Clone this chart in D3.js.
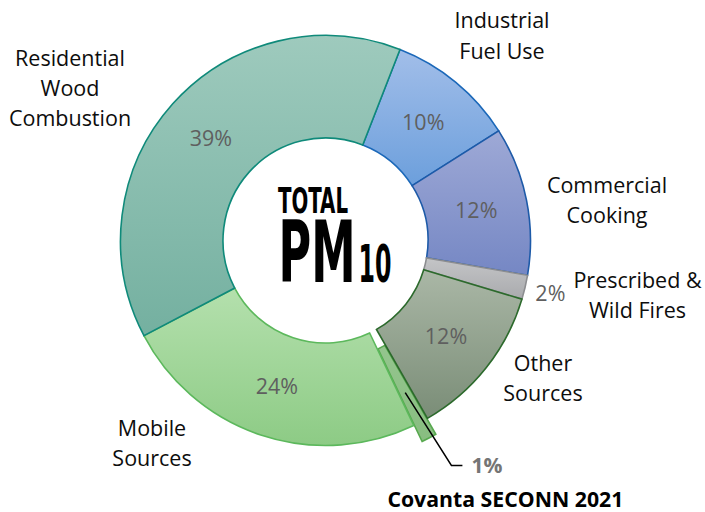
<!DOCTYPE html>
<html><head><meta charset="utf-8">
<script src="https://cdn.jsdelivr.net/npm/d3@7"></script>
<style>body{margin:0;background:#fff}svg{display:block}</style>
</head><body><svg id="c" width="705" height="512"></svg>
<script>
// ---- data ----
const categories = ["Industrial Fuel Use","Commercial Cooking","Prescribed & Wild Fires","Other Sources","Covanta SECONN 2021","Mobile Sources","Residential Wood Combustion"];
const values = [10.1, 11.7, 1.9, 12.1, 1.2, 24.4, 38.6];
const labelLines = [["Industrial","Fuel Use"],["Commercial","Cooking"],["Prescribed &","Wild Fires"],["Other","Sources"],[],["Mobile","Sources"],["Residential","Wood","Combustion"]];
const explodedFlags = [0,0,0,0,1,0,0];
const centerTitle = ["TOTAL","PM","10"];
const highlightTitle = "Covanta SECONN 2021";

// ---- styles / layout ----
const fillTop    = ["#a2bee9","#9ea9d6","#c4c5c7","#aab7a6","#94c58e","#b4e0ad","#9ecabd"];
const fillBottom = ["#6c9fdc","#7587c4","#a9aaad","#7a8d77","#88bd80","#8dcb85","#74b0a0"];
const strokeCol  = ["#1b68b9","#1d5aa8","#8c8d90","#2c6a2c","#58a94f","#5cb85c","#0f8a7a"];
// category label centres as offsets from the donut centre
const labelOffset = [[176.5,-204.5],[281.5,-40.5],[312,54.5],[217.5,137.5],null,[-173.5,202.5],[-255.5,-152.5]];
const lineH = [31,30,30,30,30,30,30];
const W = 705, H = 512, cx = 325.5, cy = 240.5, rOuter = 205, rInner = 102.5, explode = 18;
const startDeg = 21.3;

const svg = d3.select("#c");
const defs = svg.append("defs");
fillTop.forEach((c,i)=>{
  const g = defs.append("linearGradient").attr("id","g"+i).attr("x1",0).attr("y1",0).attr("x2",0).attr("y2",1);
  g.append("stop").attr("offset","0%").attr("stop-color",c);
  g.append("stop").attr("offset","100%").attr("stop-color",fillBottom[i]);
});

const pie = d3.pie().sort(null).value(d=>d)
  .startAngle(startDeg*Math.PI/180).endAngle((startDeg+360)*Math.PI/180);
const arcs = pie(values);
const arc = d3.arc().innerRadius(rInner).outerRadius(rOuter);
const root = svg.append("g").attr("transform",`translate(${cx},${cy})`);

function shift(d){
  if(!explodedFlags[d.index]) return [0,0];
  const a = (d.startAngle+d.endAngle)/2;
  return [explode*Math.sin(a), -explode*Math.cos(a)];
}
const order = arcs.slice().sort((a,b)=>explodedFlags[b.index]-explodedFlags[a.index]);
root.selectAll("path.slice").data(order).join("path")
  .attr("class","slice")
  .attr("d",arc)
  .attr("transform",d=>{const s=shift(d);return `translate(${s[0]},${s[1]})`;})
  .attr("fill",d=>`url(#g${d.index})`)
  .attr("stroke",d=>strokeCol[d.index])
  .attr("stroke-width",1.6)
  .attr("stroke-linejoin","miter");

const fmt = d3.format(".0%");
const total = d3.sum(values);
const font = "'Open Sans', Lato, sans-serif";
const fs = 21.5;

arcs.forEach(d=>{
  const i = d.index;
  const a = (d.startAngle+d.endAngle)/2;
  const txt = fmt(values[i]/total);
  if(explodedFlags[i]){
    const s = shift(d);
    const c = arc.centroid(d);
    const p0 = [c[0]+s[0], c[1]+s[1]];
    const rr = 254;
    const p1 = [rr*Math.sin(a)+8, -rr*Math.cos(a)];
    const p2 = [p1[0]+11, p1[1]];
    root.append("polyline").attr("points",[p0,p1,p2].map(p=>p.join(",")).join(" "))
      .attr("fill","none").attr("stroke","#000").attr("stroke-width",1.5);
    root.append("text").attr("x",p2[0]+9).attr("y",p2[1]).attr("dy","0.36em")
      .attr("font-family",font).attr("font-weight","bold").attr("font-size",fs)
      .attr("textLength",31).attr("lengthAdjust","spacingAndGlyphs")
      .attr("fill","#757575").text(txt);
    root.append("text").attr("x",p2[0]+43).attr("y",p2[1]+34).attr("dy","0.36em")
      .attr("text-anchor","middle")
      .attr("font-family",font).attr("font-weight","bold").attr("font-size",20.5)
      .attr("textLength",236).attr("lengthAdjust","spacingAndGlyphs")
      .attr("fill","#000").text(highlightTitle);
    return;
  }
  let pos;
  if(values[i]/total < 0.03){
    const rr = 231; pos = [rr*Math.sin(a), -rr*Math.cos(a)];
  } else pos = arc.centroid(d);
  root.append("text").attr("x",pos[0]).attr("y",pos[1]).attr("dy","0.36em")
    .attr("text-anchor","middle").attr("font-family",font).attr("font-size",fs)
    .attr("fill","#5f5f5f").text(txt);
});

arcs.forEach(d=>{
  const i = d.index, off = labelOffset[i], lines = labelLines[i];
  if(!off || !lines.length) return;
  const t = root.append("text").attr("text-anchor","middle")
    .attr("font-family",font).attr("font-size",fs).attr("fill","#0d0d0d");
  const lh = lineH[i], y0 = off[1] - (lines.length-1)*lh/2;
  lines.forEach((l,k)=>t.append("tspan").attr("x",off[0]).attr("y",y0+k*lh).attr("dy","0.36em").text(l));
});

// centre title as one text element with three tspans
const cf = "'DejaVu Sans Condensed','DejaVu Sans',sans-serif";
const ct = root.append("text").attr("font-family",cf).attr("font-weight","bold").attr("fill","#000");
const tSpec = [{x:-47.5,y:-27.5,fs:36,len:70},{x:-47,y:41.5,fs:85,len:77},{x:33,y:41.5,fs:51,len:33}];
centerTitle.forEach((s,k)=>{
  ct.append("tspan").attr("x",tSpec[k].x).attr("y",tSpec[k].y).attr("font-size",tSpec[k].fs)
    .attr("textLength",tSpec[k].len).attr("lengthAdjust","spacingAndGlyphs").text(s);
});
</script></body></html>
